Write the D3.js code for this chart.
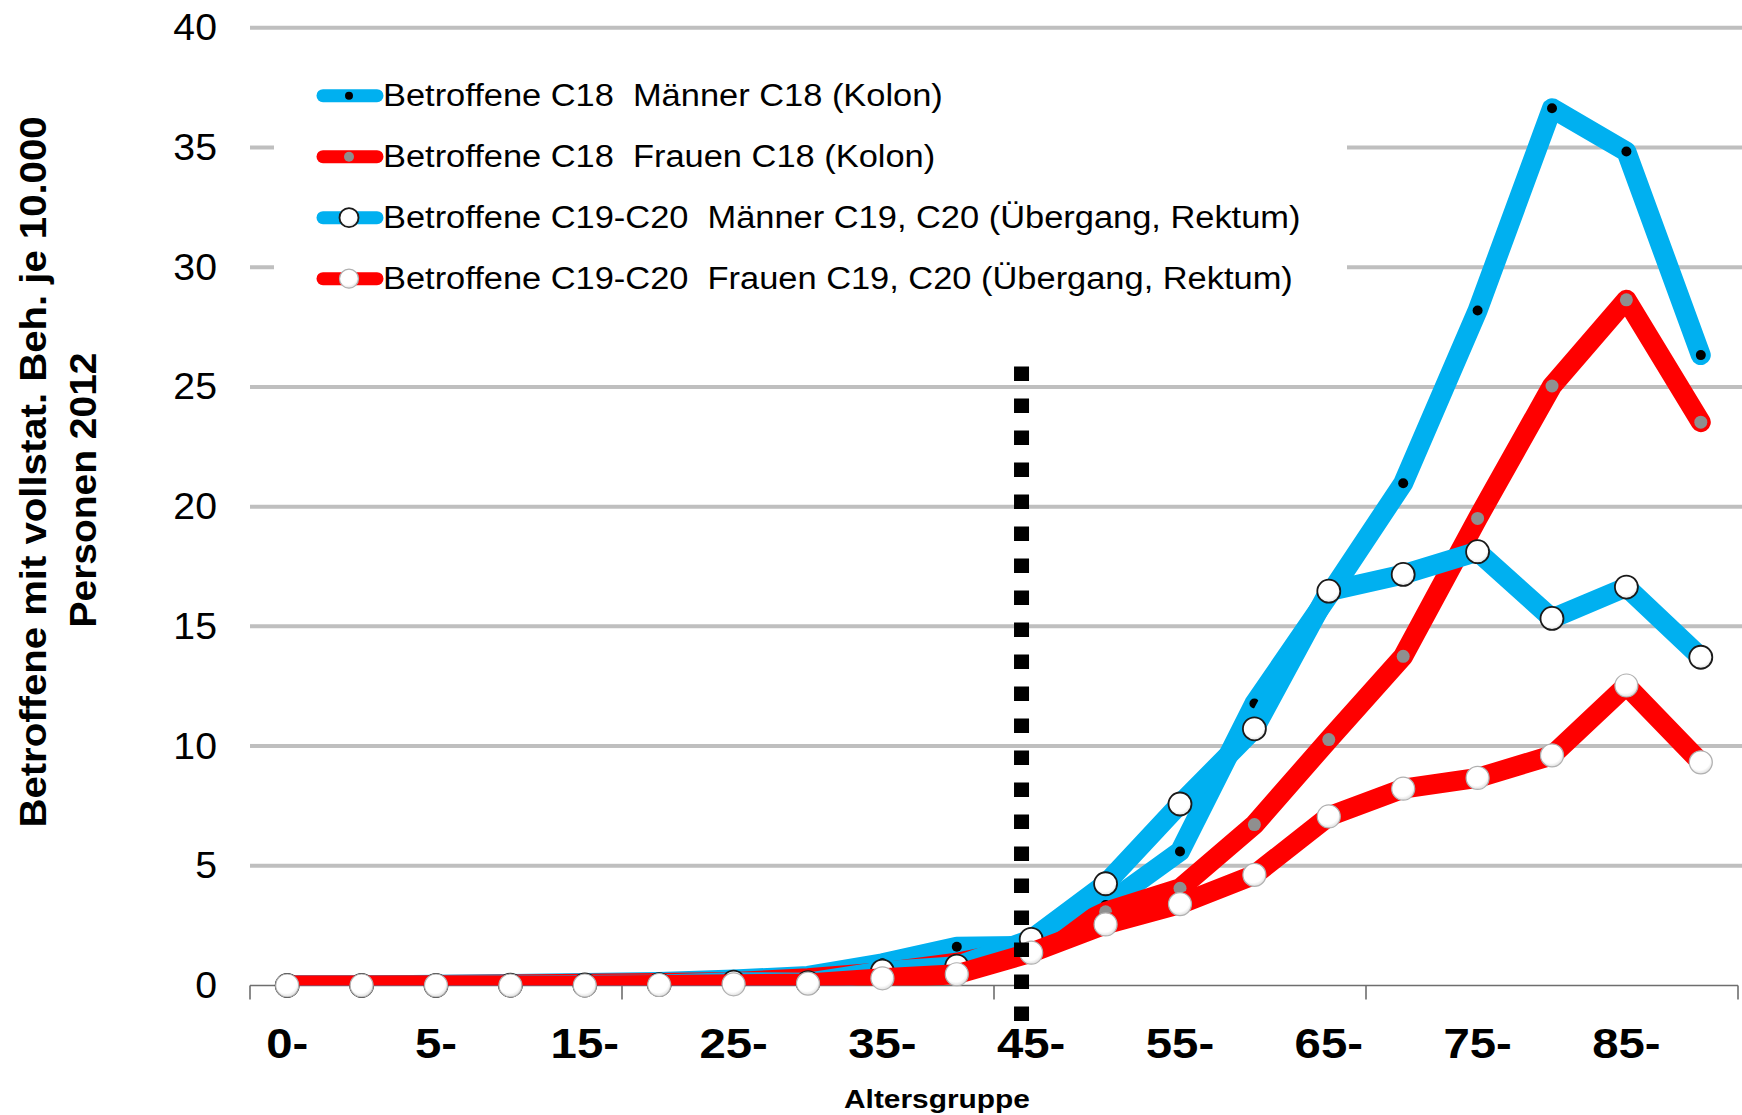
<!DOCTYPE html>
<html>
<head>
<meta charset="utf-8">
<script src="https://cdn.jsdelivr.net/npm/d3@7"></script>
<style>
  body { margin: 0; background: #fff; }
  svg { display: block; }
  text { font-family: "Liberation Sans", Arial, sans-serif; fill: #000; }
</style>
</head>
<body>
<svg id="chart" width="1742" height="1115"></svg>
<script>
// age groups on the x axis
const ageGroups = ["0-", "1-", "5-", "10-", "15-", "20-", "25-", "30-", "35-", "40-",
                   "45-", "50-", "55-", "60-", "65-", "70-", "75-", "80-", "85-", "90-"]

// Betroffene je 10.000 Personen
const menC18    = [0, 0, 0.03, 0.06, 0.1, 0.15, 0.25, 0.4, 0.93, 1.62, 1.65, 3.36, 5.6, 11.78, 16.3, 20.98, 28.19, 36.64, 34.83, 26.33]
const womenC18  = [0, 0, 0.02, 0.04, 0.07, 0.1, 0.15, 0.3, 0.55, 0.95, 1.6, 3.08, 4.06, 6.72, 10.27, 13.75, 19.51, 25.04, 28.64, 23.53]
const menC1920  = [0, 0, 0, 0.01, 0.02, 0.04, 0.14, 0.12, 0.6, 0.81, 1.93, 4.25, 7.58, 10.72, 16.47, 17.17, 18.12, 15.33, 16.64, 13.71]
const womenC1920 = [0, 0, 0, 0, 0, 0.02, 0.05, 0.08, 0.3, 0.47, 1.37, 2.55, 3.4, 4.62, 7.06, 8.22, 8.67, 9.61, 12.53, 9.32]

const seriesNames = [
    "Betroffene C18  Männer C18 (Kolon)",
    "Betroffene C18  Frauen C18 (Kolon)",
    "Betroffene C19-C20  Männer C19, C20 (Übergang, Rektum)",
    "Betroffene C19-C20  Frauen C19, C20 (Übergang, Rektum)"
]

const yTicks = [0, 5, 10, 15, 20, 25, 30, 35, 40]

const blue = "#00b0f0"
const red = "#ff0000"

let svg = d3.select("#chart")

let x = d3.scaleBand().domain(ageGroups).range([250, 1738])
let y = d3.scaleLinear().domain([0, 40]).range([985.5, 27.8])
let bw = x.bandwidth()
let cx = (i) => x(ageGroups[i]) + bw / 2

// stretch text a little, the original font runs wider than Arial
let widen = (sel, f) => {
    sel.each(function () {
        let len = this.getComputedTextLength()
        d3.select(this).attr("textLength", len * f).attr("lengthAdjust", "spacingAndGlyphs")
    })
}

let defs = svg.append("defs")
defs.append("clipPath").attr("id", "plotClip")
    .append("rect").attr("x", 0).attr("y", 0).attr("width", 1742).attr("height", y(0))

let grad = defs.append("radialGradient").attr("id", "ballFill")
    .attr("cx", "45%").attr("cy", "38%").attr("r", "65%")
grad.append("stop").attr("offset", "0%").attr("stop-color", "#ffffff")
grad.append("stop").attr("offset", "70%").attr("stop-color", "#ffffff")
grad.append("stop").attr("offset", "100%").attr("stop-color", "#d9d9d9")

// gridlines
svg.append("g").selectAll("line")
    .data(yTicks.filter(t => t > 0))
    .enter().append("line")
    .attr("x1", 250).attr("x2", 1742)
    .attr("y1", d => y(d)).attr("y2", d => y(d))
    .attr("stroke", "#bfbfbf").attr("stroke-width", 4)

// y tick labels
let yLab = svg.append("g").selectAll("text")
    .data(yTicks)
    .enter().append("text")
    .attr("x", 217).attr("y", d => y(d))
    .attr("text-anchor", "end").attr("dominant-baseline", "central")
    .attr("font-size", 37).attr("fill", "#111")
    .text(d => d)
widen(yLab, 1.06)

// x axis line + ticks
let axis = svg.append("g")
axis.append("line")
    .attr("x1", 250).attr("x2", 1738).attr("y1", y(0)).attr("y2", y(0))
    .attr("stroke", "#6e6e6e").attr("stroke-width", 1.6)
axis.selectAll(".tick")
    .data(ageGroups.map((c, i) => i).filter(i => i % 5 === 0).concat([ageGroups.length]))
    .enter().append("line")
    .attr("x1", i => i < ageGroups.length ? x(ageGroups[i]) : x.range()[1])
    .attr("x2", i => i < ageGroups.length ? x(ageGroups[i]) : x.range()[1])
    .attr("y1", y(0)).attr("y2", y(0) + 14)
    .attr("stroke", "#6e6e6e").attr("stroke-width", 1.6)

let xLab = axis.selectAll(".lab")
    .data(ageGroups.filter((c, i) => i % 2 === 0))
    .enter().append("text")
    .attr("x", d => x(d) + bw / 2).attr("y", 1058)
    .attr("text-anchor", "middle")
    .attr("font-size", 43).attr("font-weight", "bold")
    .text(d => d)
widen(xLab, 1.1)

// axis titles
let xTitle = svg.append("text")
    .attr("x", 937).attr("y", 1108)
    .attr("text-anchor", "middle").attr("font-size", 25).attr("font-weight", "bold")
    .text("Altersgruppe")
xTitle.attr("textLength", 186).attr("lengthAdjust", "spacingAndGlyphs")

let yTitle = svg.append("g").attr("transform", "rotate(-90)")
yTitle.append("text")
    .attr("x", -472).attr("y", 33)
    .attr("text-anchor", "middle").attr("dominant-baseline", "central")
    .attr("font-size", 36).attr("font-weight", "bold")
    .attr("textLength", 711).attr("lengthAdjust", "spacingAndGlyphs")
    .text("Betroffene mit vollstat. Beh. je 10.000")
yTitle.append("text")
    .attr("x", -490).attr("y", 83)
    .attr("text-anchor", "middle").attr("dominant-baseline", "central")
    .attr("font-size", 36).attr("font-weight", "bold")
    .attr("textLength", 275).attr("lengthAdjust", "spacingAndGlyphs")
    .text("Personen 2012")

// series
let series = [
    { name: seriesNames[0], values: menC18, color: blue, marker: "dot" },
    { name: seriesNames[1], values: womenC18, color: red, marker: "gray" },
    { name: seriesNames[2], values: menC1920, color: blue, marker: "ballDark" },
    { name: seriesNames[3], values: womenC1920, color: red, marker: "ballLight" }
]

let drawMarker = (sel, type, r) => {
    if (type === "dot") {
        sel.attr("r", r ? r : 5).attr("fill", "#000")
    } else if (type === "gray") {
        sel.attr("r", r ? r : 6.5).attr("fill", "#8f8f8f")
    } else if (type === "ballDark") {
        sel.attr("r", r ? r : 11.5).attr("fill", "url(#ballFill)").attr("stroke", "#1a1a1a").attr("stroke-width", 1.8)
    } else {
        sel.attr("r", r ? r : 11.5).attr("fill", "url(#ballFill)").attr("stroke", "#b0b0b0").attr("stroke-width", 1.2)
    }
}

let line = d3.line()
    .x((d, i) => cx(i))
    .y(d => y(d))

series.forEach(s => {
    let g = svg.append("g")
    g.append("path")
        .attr("d", line(s.values))
        .attr("fill", "none")
        .attr("stroke", s.color).attr("stroke-width", 20)
        .attr("stroke-linejoin", "round").attr("stroke-linecap", "round")
        .attr("clip-path", "url(#plotClip)")
    let m = g.selectAll("circle")
        .data(s.values)
        .enter().append("circle")
        .attr("cx", (d, i) => cx(i)).attr("cy", d => y(d))
    drawMarker(m, s.marker)
})

// dashed marker line at age 45
let dashX = x("45-") + bw * 0.37
svg.append("line")
    .attr("x1", dashX).attr("x2", dashX)
    .attr("y1", y(25.85)).attr("y2", y(0) + 36)
    .attr("stroke", "#000").attr("stroke-width", 15)
    .attr("stroke-dasharray", "14.5,17.5")

// legend
let legend = svg.append("g")
legend.append("rect")
    .attr("x", 274).attr("y", 58).attr("width", 1073).attr("height", 265)
    .attr("fill", "#fff")

let rows = legend.selectAll(".row")
    .data(series)
    .enter().append("g")
    .attr("transform", (d, i) => "translate(0," + (95.7 + i * 61) + ")")

rows.append("line")
    .attr("x1", 323).attr("x2", 377).attr("y1", 0).attr("y2", 0)
    .attr("stroke", d => d.color).attr("stroke-width", 13).attr("stroke-linecap", "round")

rows.each(function (d) {
    let c = d3.select(this).append("circle").attr("cx", 349).attr("cy", 0)
    let r = d.marker === "dot" ? 4 : d.marker === "gray" ? 5 : 9.5
    drawMarker(c, d.marker, r)
})

let legText = rows.append("text")
    .attr("x", 383).attr("y", 0)
    .attr("dominant-baseline", "central")
    .attr("font-size", 31)
    .style("white-space", "pre")
    .attr("xml:space", "preserve")
    .text(d => d.name)
widen(legText, 1.11)
</script>
</body>
</html>
